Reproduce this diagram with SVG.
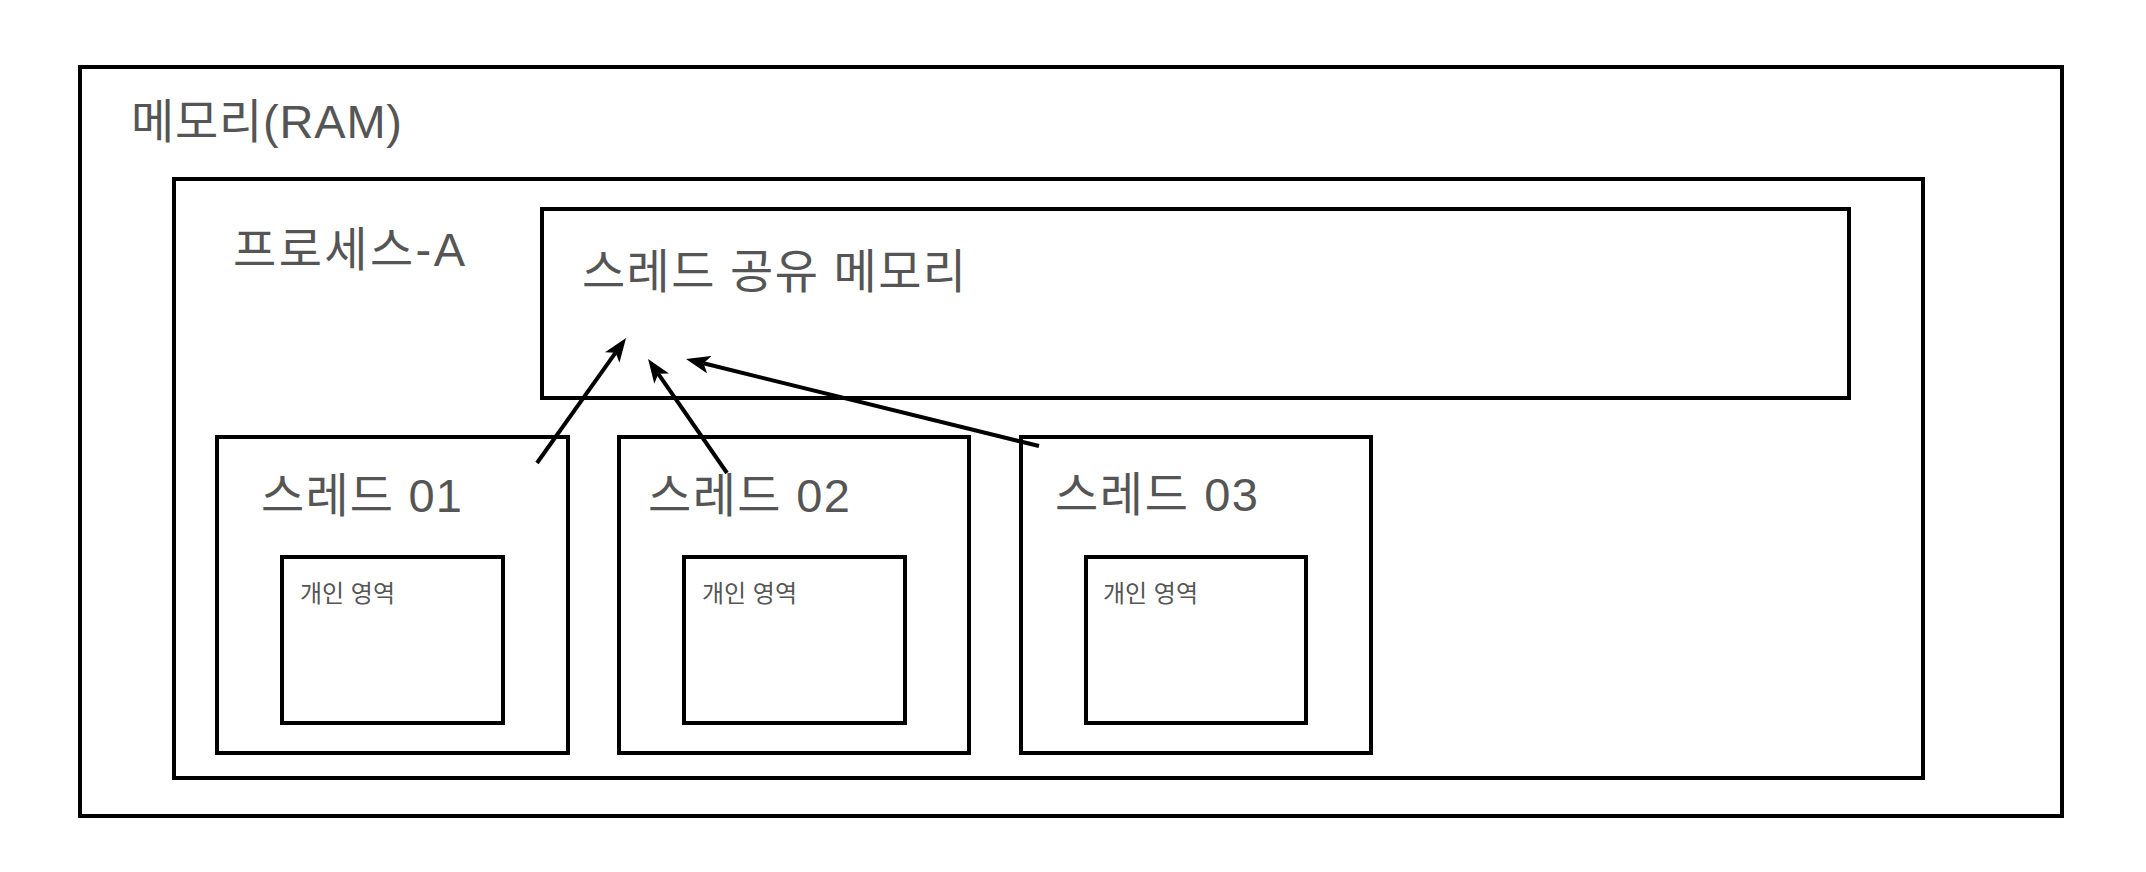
<svg xmlns="http://www.w3.org/2000/svg" width="2146" height="872" viewBox="0 0 2146 872">
  <style>
    .box { fill: #ffffff; stroke: #000000; stroke-width: 4; }
    .lbl { font-family: "Liberation Sans", "Noto Sans CJK KR", sans-serif; fill: #555555; }
    .big { font-size: 47px; }
    .small { font-size: 24px; }
    .conn { stroke: #000000; stroke-width: 4; fill: none; marker-end: url(#arrow); }
  </style>
  <defs>
    <marker id="arrow" viewBox="0 0 24 18" refX="6" refY="9" markerWidth="24" markerHeight="18" markerUnits="userSpaceOnUse" orient="auto">
      <path d="M0,0 L24,9 L0,18 L6,9 z" fill="#000000"/>
    </marker>
  </defs>
  <rect width="2146" height="872" fill="#ffffff"/>

  <g id="memory">
    <rect class="box" x="80" y="67" width="1982" height="749"/>
    <text class="lbl big" x="131" y="138" textLength="271">메모리(RAM)</text>
  </g>

  <g id="process-a">
    <rect class="box" x="174" y="179" width="1749" height="599"/>
    <text class="lbl big" x="233" y="266" textLength="232">프로세스-A</text>
  </g>

  <g id="shared-memory">
    <rect class="box" x="542" y="209" width="1307" height="189"/>
    <text class="lbl big" x="582" y="288" textLength="384">스레드 공유 메모리</text>
  </g>

  <g id="thread-01">
    <rect class="box" x="217" y="437" width="351" height="316"/>
    <text class="lbl big" x="261" y="512" textLength="201">스레드 01</text>
  </g>
  <g id="private-01">
    <rect class="box" x="282" y="557" width="221" height="166"/>
    <text class="lbl small" x="300" y="602" textLength="95">개인 영역</text>
  </g>

  <g id="thread-02">
    <rect class="box" x="619" y="437" width="350" height="316"/>
    <text class="lbl big" x="648" y="512" textLength="202">스레드 02</text>
  </g>
  <g id="private-02">
    <rect class="box" x="684" y="557" width="221" height="166"/>
    <text class="lbl small" x="702" y="602" textLength="95">개인 영역</text>
  </g>

  <g id="thread-03">
    <rect class="box" x="1021" y="437" width="350" height="316"/>
    <text class="lbl big" x="1055" y="511" textLength="203">스레드 03</text>
  </g>
  <g id="private-03">
    <rect class="box" x="1086" y="557" width="220" height="166"/>
    <text class="lbl small" x="1103" y="602" textLength="95">개인 영역</text>
  </g>

  <g id="connectors">
    <line class="conn" x1="537" y1="463" x2="615.6" y2="352.7"/>
    <line class="conn" x1="727" y1="473" x2="658.3" y2="373.8"/>
    <line class="conn" x1="1039" y1="446" x2="703.5" y2="363.3"/>
  </g>
</svg>
